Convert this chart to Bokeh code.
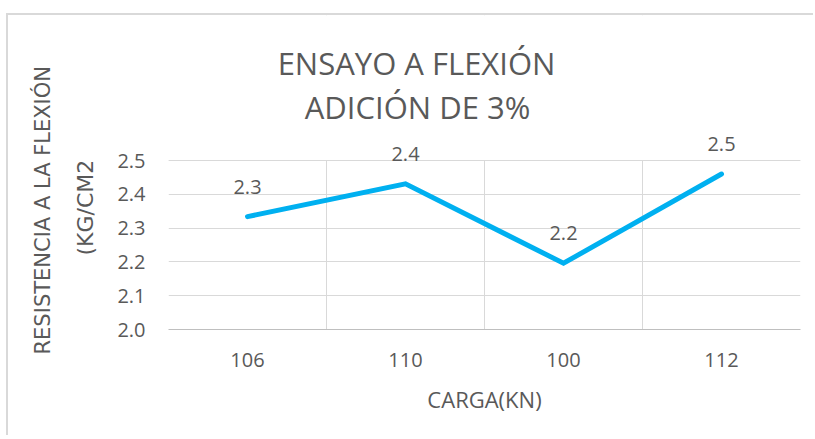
from bokeh.plotting import figure
from bokeh.models import (ColumnDataSource, LabelSet, Label, FactorRange, Range1d,
                          FixedTicker, PrintfTickFormatter, BoxAnnotation, Span, Title)
from bokeh.core.properties import value
from bokeh.embed import file_html
from bokeh.resources import INLINE

categories = ["106", "110", "100", "112"]
values = [2.334, 2.431, 2.196, 2.46]
value_labels = ["2.3", "2.4", "2.2", "2.5"]
y_ticks = [2.0, 2.1, 2.2, 2.3, 2.4, 2.5]
title_lines = ["ENSAYO A FLEXIÓN", "ADICIÓN DE 3%"]
y_title_lines = ["RESISTENCIA A LA FLEXIÓN", "(KG/CM2"]
x_title = "CARGA(KN)"

TEXT = "#595959"
GRID = "#D9D9D9"
LINE = "#00B0F0"
FONT = "Open Sans"

# layout (pixels inside the figure canvas)
W, H = 807, 422
L, R, B = 160, 15, 108
T = 0
Y_TOP_PX = 145            # pixel row of the top tick (2.5)
frame_h = H - T - B
px_per_unit = (frame_h - Y_TOP_PX) / (max(y_ticks) - min(y_ticks))
y_end = min(y_ticks) + frame_h / px_per_unit

p = figure(width=W, height=H, x_range=FactorRange(*categories),
           y_range=Range1d(min(y_ticks), y_end),
           output_backend="svg", toolbar_location=None,
           min_border_left=L, min_border_right=R, min_border_top=T, min_border_bottom=B)
p.styles = {"margin-left": "6px", "margin-top": "13px",
            "border-left": "2px solid #D9D9D9", "border-top": "2px solid #D9D9D9"}
p.outline_line_color = None
p.background_fill_color = "white"
p.border_fill_color = "white"

# grids
p.ygrid.ticker = FixedTicker(ticks=y_ticks)
p.ygrid.grid_line_color = GRID
p.xgrid.ticker = FixedTicker(ticks=list(range(len(categories) + 1)))
p.xgrid.grid_line_color = GRID

# white cover above the plot area (hides grid above top tick), then the top grid line
p.add_layout(BoxAnnotation(bottom=max(y_ticks), fill_color="white", fill_alpha=1.0,
                           line_color=None, level="underlay"))
p.add_layout(Span(location=max(y_ticks), dimension="width", line_color=GRID,
                  line_width=1, level="underlay"))

# y axis
p.yaxis.ticker = FixedTicker(ticks=y_ticks)
p.yaxis.formatter = PrintfTickFormatter(format="%.1f")
p.yaxis.axis_line_color = None
p.yaxis.major_tick_line_color = None
p.yaxis.major_tick_out = 0
p.yaxis.minor_tick_line_color = None
p.yaxis.major_label_standoff = 23
p.yaxis.major_label_text_font = FONT
p.yaxis.major_label_text_font_size = "20px"
p.yaxis.major_label_text_color = TEXT

# x axis
p.xaxis.axis_line_color = "#BFBFBF"
p.xaxis.major_tick_line_color = None
p.xaxis.major_tick_out = 0
p.xaxis.minor_tick_line_color = None
p.xaxis.major_label_standoff = 23
p.xaxis.major_label_text_font = FONT
p.xaxis.major_label_text_font_size = "20px"
p.xaxis.major_label_text_color = TEXT
p.xaxis.axis_label = x_title
p.xaxis.axis_label_standoff = 14
p.xaxis.axis_label_text_font = FONT
p.xaxis.axis_label_text_font_size = "22px"
p.xaxis.axis_label_text_font_style = "normal"
p.xaxis.axis_label_text_color = TEXT

src = ColumnDataSource(dict(cat=categories, val=values, lab=value_labels))
p.line("cat", "val", source=src, line_color=LINE, line_width=5,
       line_join="miter", line_cap="round")

p.add_layout(LabelSet(x="cat", y="val", text="lab", source=src, y_offset=30,
                      text_align="center", text_baseline="middle",
                      text_font=value(FONT), text_font_size="20px", text_color=TEXT))

# pixel -> data helpers for text placed in the upper (empty) part of the frame
def dx(fx):
    return (fx - L) / ((W - L - R) / len(categories))

def dy(fy):
    return min(y_ticks) + (H - B - fy) / px_per_unit

for txt, (fx, fy) in zip(title_lines, [(408, 47), (409, 91)]):
    p.add_layout(Label(x=dx(fx), y=dy(fy), text=txt,
                       text_align="center", text_baseline="middle",
                       text_font=FONT, text_font_size="31px", text_color=TEXT))

# vertical axis title (two lines) as left-side titles; first added is nearest the axis
p.add_layout(Title(text=y_title_lines[1], align="left", offset=74, standoff=33,
                   text_font="DejaVu Sans", text_font_size="22px",
                   text_font_style="normal", text_color=TEXT), "left")
p.add_layout(Title(text=y_title_lines[0], align="left", offset=-25, standoff=0,
                   text_font="DejaVu Sans", text_font_size="21px",
                   text_font_style="normal", text_color=TEXT), "left")

open("out.html", "w").write(file_html(p, INLINE))
